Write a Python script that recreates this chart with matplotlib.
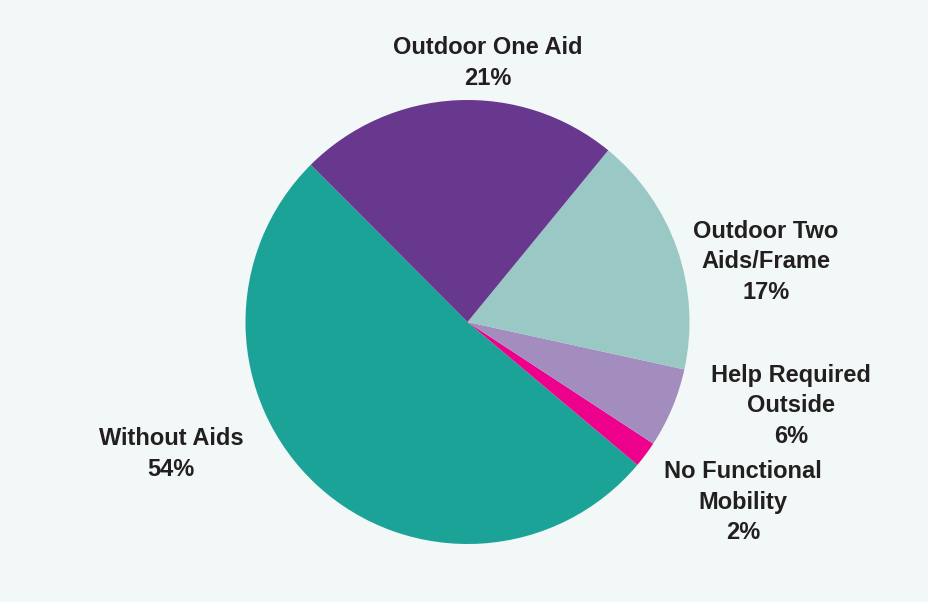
import matplotlib
matplotlib.use("Agg")
import matplotlib.pyplot as plt

# mobility categories, in drawing order (counter-clockwise)
categories = ["Without Aids", "No Functional\nMobility", "Help Required\nOutside",
              "Outdoor Two\nAids/Frame", "Outdoor One Aid"]
# slice sizes as drawn in the picture
shares = [51.4, 1.9, 5.8, 17.5, 23.4]
# percentages printed on the labels
pct_text = ["54%", "2%", "6%", "17%", "21%"]
colors = ["#1ca398", "#ec008c", "#a38dbf", "#99c8c5", "#68378e"]

bg = "#f2f7f7"

fig = plt.figure(figsize=(9.29, 6.02), dpi=100, facecolor=bg)
ax = fig.add_axes([0, 0, 1, 1])
ax.set_facecolor(bg)

# work in pixel units, y measured from the bottom
ax.pie(shares, colors=colors, startangle=134.9, counterclock=True,
       center=(467.5, 602 - 322), radius=222,
       wedgeprops=dict(linewidth=0))
ax.set_xlim(0, 929)
ax.set_ylim(0, 602)
ax.set_aspect("equal")
ax.axis("off")

# label centres (pixels from top-left)
label_pos = [(171, 454), (743, 502), (791, 406), (766, 262), (488, 63)]
for name, pct, (px, py) in zip(categories, pct_text, label_pos):
    ax.text(px, 602 - py, name + "\n" + pct, ha="center", va="center",
            fontsize=17, fontweight="bold", color="#231f20",
            family="Liberation Sans", linespacing=1.4)

fig.savefig("out.png", dpi=100, facecolor=bg)
